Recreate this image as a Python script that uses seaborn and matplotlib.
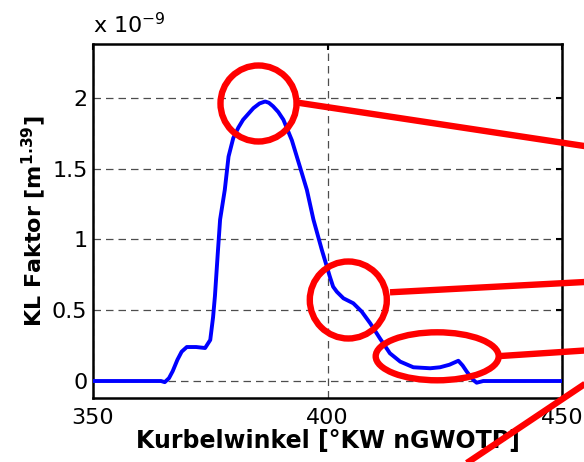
import matplotlib
matplotlib.use("Agg")
import matplotlib.pyplot as plt
from matplotlib.patches import Ellipse
from matplotlib.lines import Line2D
import seaborn as sns
import pandas as pd

# Crank angle [deg CA after gas-exchange TDC] and KL factor (in units of 1e-9 m^1.39)
kurbelwinkel = [350, 364.5, 365.3, 366.2, 367.0, 368.0, 368.9, 370.0, 372.0, 373.9,
                375.0, 375.6, 376.0, 376.6, 377.1, 378.1, 378.9, 379.9, 381.0, 382.0,
                384.2, 385.5, 386.7, 387.5, 388.4, 389.5, 390.6, 392.4, 394.1, 395.6,
                397.0, 398.8, 400.5, 401.2, 402.0, 403.4, 405.5, 407.3, 409.1, 411.2,
                413.3, 415.5, 418.3, 421.9, 424.0, 426.0, 427.9, 428.8, 429.7, 431.1,
                431.8, 433.2, 450]
kl_faktor = [0.0, 0.0, -0.008, 0.02, 0.07, 0.15, 0.207, 0.24, 0.24, 0.233,
             0.29, 0.45, 0.6, 0.9, 1.14, 1.35, 1.585, 1.715, 1.79, 1.845,
             1.927, 1.96, 1.974, 1.965, 1.94, 1.90, 1.845, 1.70, 1.515, 1.35,
             1.14, 0.925, 0.737, 0.666, 0.63, 0.584, 0.549, 0.49, 0.408, 0.30,
             0.196, 0.137, 0.097, 0.09, 0.097, 0.115, 0.143, 0.11, 0.066, 0.007,
             -0.012, 0.0, 0.0]

x_ticks = [350, 400, 450]
y_ticks = [0, 0.5, 1, 1.5, 2]
y_ticklabels = ["0", "0.5", "1", "1.5", "2"]

df = pd.DataFrame({"kw": kurbelwinkel, "kl": kl_faktor})

sns.set_theme(style="white")
plt.rcParams["font.family"] = ["DejaVu Sans"]

fig = plt.figure(figsize=(5.84, 4.62), dpi=100)
ax = fig.add_axes([93 / 584, 64 / 462, 469 / 584, 354 / 462])

sns.lineplot(data=df, x="kw", y="kl", ax=ax, color="#0000ff", linewidth=2.8,
             sort=False, zorder=3)

ax.set_xlim(350, 450)
ax.set_ylim(-0.12, 2.38)
ax.set_xticks(x_ticks)
ax.set_xticklabels([str(v) for v in x_ticks])
ax.set_yticks(y_ticks)
ax.set_yticklabels(y_ticklabels)

ax.grid(True, color="0.3", linestyle=(0, (6, 4)), linewidth=0.9)
for s in ax.spines.values():
    s.set_color("black")
    s.set_linewidth(1.8)
ax.tick_params(direction="in", length=4, width=1.5, color="black",
               top=True, right=True, labelsize=16, labelcolor="black")
ax.tick_params(axis="x", pad=7)
ax.tick_params(axis="y", pad=4)

ax.set_xlabel("Kurbelwinkel [°KW nGWOTP]", fontsize=17, fontweight="bold",
              color="black", labelpad=1)
ax.set_ylabel(r"KL Faktor [m$^{\mathbf{1.39}}$]", fontsize=16, fontweight="bold",
              color="black", labelpad=3)

ax.text(0.0, 1.02, r"x 10$^{-9}$", transform=ax.transAxes, fontsize=16,
        ha="left", va="bottom", color="black")

# Highlight markers and leader lines in figure pixel space
ov = fig.add_axes([0, 0, 1, 1], zorder=10)
ov.set_xlim(0, 584)
ov.set_ylim(462, 0)
ov.axis("off")
ov.patch.set_alpha(0)

red = "#ff0000"
lw = 4.6
for (cx, cy, w, h) in [(258.5, 103.5, 76, 76), (348.3, 300, 77, 77), (437.2, 356.3, 123, 48)]:
    ov.add_patch(Ellipse((cx, cy), w, h, fill=False, edgecolor=red, linewidth=lw,
                         clip_on=False))
for (x0, y0, x1, y1) in [(298, 102.7, 600, 148.4), (390, 292.3, 600, 281.2),
                         (500.7, 356, 600, 349.5), (460, 467.6, 600, 373.8)]:
    ov.add_line(Line2D([x0, x1], [y0, y1], color=red, linewidth=lw, clip_on=False,
                       solid_capstyle="butt"))

fig.savefig("out.png", dpi=100)
